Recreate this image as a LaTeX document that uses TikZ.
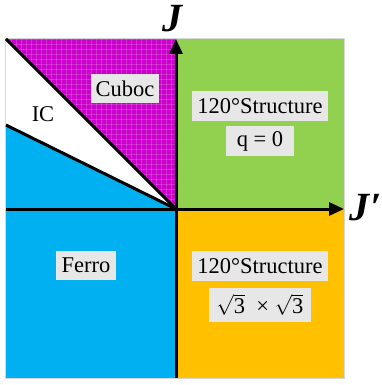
\documentclass[tikz,border=0pt]{standalone}
\usepackage{fontspec}
\setmainfont{Liberation Serif}
\newfontfamily\timesf{Liberation Serif}
\usetikzlibrary{arrows.meta}
\definecolor{cubocC}{RGB}{204,0,204}
\definecolor{greenC}{RGB}{146,208,80}
\definecolor{orangeC}{RGB}{255,192,0}
\definecolor{blueC}{RGB}{0,176,240}
\definecolor{boxC}{RGB}{231,231,231}
\definecolor{rimC}{RGB}{215,215,215}
\tikzset{
  lbl/.style={fill=boxC, inner sep=0pt, font=\timesf\fontsize{22.5}{26}\selectfont},
  axislbl/.style={inner sep=0pt, font=\timesf\fontsize{40}{42}\selectfont\bfseries\itshape},
  bound/.style={line width=3pt, black},
  axis/.style={line width=3pt, black, -{Triangle[length=15pt,width=13pt]}},
  gridln/.style={white, opacity=0.17, line width=0.5pt},
}
\begin{document}
\begin{tikzpicture}[x=1pt,y=-1pt]
\useasboundingbox (0,0) rectangle (382,385);
\coordinate (O) at (176,209);
\coordinate (TL) at (6,39);
\coordinate (T) at (176,39);
\coordinate (TR) at (344,39);
\coordinate (R) at (344,209);
\coordinate (BR) at (344,378);
\coordinate (B) at (176,378);
\coordinate (BL) at (6,378);
\coordinate (L) at (6,209);
\coordinate (LM) at (6,125);
% regions
\fill[greenC] (T) rectangle (R);
\fill[orangeC] (O) rectangle (BR);
\fill[blueC] (LM) -- (O) -- (B) -- (BL) -- cycle;
\fill[white] (TL) -- (O) -- (LM) -- cycle;
\fill[cubocC] (TL) -- (T) -- (O) -- cycle;
\begin{scope}
  \clip (TL) -- (T) -- (O) -- cycle;
  \foreach \i in {0,...,36} {
    \draw[gridln] (6+5*\i,39) -- (6+5*\i,210);
    \draw[gridln] (6,39+5*\i) -- (177,39+5*\i);
  }
\end{scope}
\draw[rimC, line width=1pt] (5.5,38.5) rectangle (344.5,378.5);
% boundaries
\draw[bound] (O) -- (TL);
\draw[bound] (O) -- (LM);
% axes
\draw[axis] (B) -- (T);
\draw[axis] (L) -- (R);
% labels
\node[axislbl] (jlab) at (172,19) {J};
\node[axislbl] (jplab) at (366,208) {J\kern1pt\char"2032};
\node[lbl, minimum width=68pt, minimum height=29pt] (cuboc) at (125,88.5) {Cuboc};
\node[lbl, fill=none] (ic) at (43,114) {IC};
\node[lbl, minimum width=136pt, minimum height=30pt] (s1) at (260,106) {120°Structure};
\node[lbl, minimum width=68pt, minimum height=30pt] (q0) at (260,141) {q = 0};
\node[lbl, minimum width=136pt, minimum height=30pt] (s2) at (260,266) {120°Structure};
\node[lbl, minimum width=102pt, minimum height=34pt] (sq) at (260,305) {$\sqrt{\mbox{\timesf 3}}$\ \ ×\ $\sqrt{\mbox{\timesf 3}}$};
\node[lbl, minimum width=60pt, minimum height=29pt] (ferro) at (86,265.5) {Ferro};
\end{tikzpicture}
\end{document}
